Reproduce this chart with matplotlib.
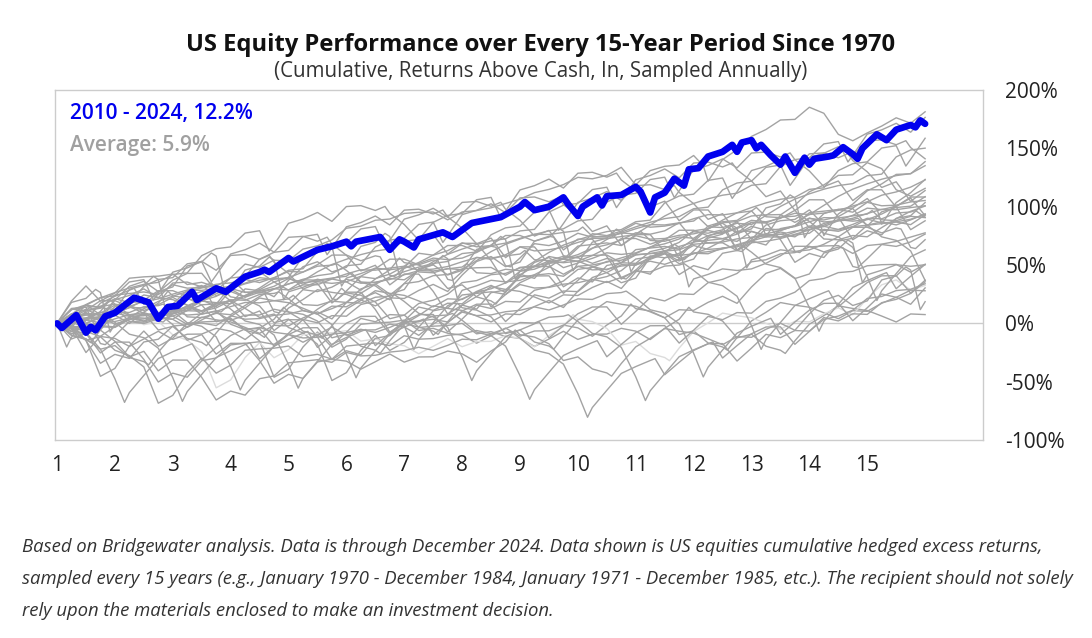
import numpy as np
import matplotlib.pyplot as plt

plt.rcParams['font.family'] = ['Open Sans', 'DejaVu Sans']

# S&P 500 quarter-end price levels (Q1..Q4 of each year)
spx_dec_1969 = 92.06
spx_1970s = [89.63, 72.72, 84.21, 92.15,
             100.31, 99.70, 98.34, 102.09,
             107.20, 107.14, 110.55, 118.05,
             111.52, 104.26, 108.43, 97.55,
             93.98, 86.00, 63.54, 68.56,
             83.36, 95.19, 83.87, 90.19,
             102.77, 104.28, 105.24, 107.46,
             98.42, 100.48, 96.53, 95.10,
             89.21, 95.53, 102.54, 96.11,
             101.59, 102.91, 109.32, 107.94]
spx_1980s = [102.09, 114.24, 125.46, 135.76,
             136.00, 131.21, 116.18, 122.55,
             111.96, 109.61, 120.42, 140.64,
             152.96, 168.11, 166.07, 164.93,
             159.18, 153.18, 166.10, 167.24,
             180.66, 191.85, 182.08, 211.28,
             238.90, 250.84, 231.32, 242.17,
             291.70, 304.00, 321.83, 247.08,
             258.89, 273.50, 271.91, 277.72,
             294.87, 317.98, 349.15, 353.40]
spx_1990s = [339.94, 358.02, 306.05, 330.22,
             375.22, 371.16, 387.86, 417.09,
             403.69, 408.14, 417.80, 435.71,
             451.67, 450.53, 458.93, 466.45,
             445.77, 444.27, 462.69, 459.27,
             500.71, 544.75, 584.41, 615.93,
             645.50, 670.63, 687.31, 740.74,
             757.12, 885.14, 947.28, 970.43,
             1101.75, 1133.84, 1017.01, 1229.23,
             1286.37, 1372.71, 1282.71, 1469.25]
spx_2000s = [1498.58, 1454.60, 1436.51, 1320.28,
             1160.33, 1224.42, 1040.94, 1148.08,
             1147.39, 989.82, 815.28, 879.82,
             848.18, 974.50, 995.97, 1111.92,
             1126.21, 1140.84, 1114.58, 1211.92,
             1180.59, 1191.33, 1228.81, 1248.29,
             1294.83, 1270.20, 1335.85, 1418.30,
             1420.86, 1503.35, 1526.75, 1468.36,
             1322.70, 1280.00, 1166.36, 903.25,
             797.87, 919.32, 1057.08, 1115.10]
spx_2010s = [1169.43, 1030.71, 1141.20, 1257.64,
             1325.83, 1320.64, 1131.42, 1257.60,
             1408.47, 1362.16, 1440.67, 1426.19,
             1569.19, 1606.28, 1681.55, 1848.36,
             1872.34, 1960.23, 1972.29, 2058.90,
             2067.89, 2063.11, 1920.03, 2043.94,
             2059.74, 2098.86, 2168.27, 2238.83,
             2362.72, 2423.41, 2519.36, 2673.61,
             2640.87, 2718.37, 2913.98, 2506.85,
             2834.40, 2941.76, 2976.74, 3230.78]
spx_2020s = [2584.59, 3100.29, 3363.00, 3756.07,
             3972.89, 4297.50, 4307.54, 4766.18,
             4530.41, 3785.38, 3585.62, 3839.50,
             4109.31, 4450.38, 4288.05, 4769.83,
             5254.35, 5460.48, 5762.48, 5881.63]

# a few extra month-end levels around big swings (months since Dec 1969)
extra_months = [131, 151, 212, 215, 247, 250, 289, 344, 368, 454, 470, 484, 602]
extra_levels = [140.52, 107.09, 329.80, 230.30, 356.15, 304.00, 481.61,
                957.28, 1517.68, 1549.38, 735.09, 1186.69, 2954.22]

# dividend yield minus T-bill rate, % per year, 1970..2024
carry_pct = [-2.9, -1.2, -1.3, -4.0, -3.4, -1.5, -1.2, -0.7, -1.9, -4.5,
             -6.5, -8.8, -5.2, -4.2, -4.9, -3.3, -2.5, -2.7, -3.1, -4.7,
             -3.9, -2.2, -0.5, -0.2, -1.5, -3.0, -2.9, -3.4, -3.4, -3.5,
             -4.7, -2.1, 0.0, 0.8, 0.3, -1.4, -3.0, -2.6, 1.1, 2.1,
             1.8, 2.0, 2.0, 2.0, 1.9, 2.0, 1.8, 1.0, 0.0, -0.2,
             1.3, 1.2, -0.4, -3.6, -3.8]

start_years = list(range(1970, 2010))
light_year = 1972

# 2010 - 2024 path (month, cumulative %)
blue_month = [0, 1, 4, 6, 7, 8, 10, 12, 16, 19, 21, 23, 25, 28, 29, 33, 35, 39, 42, 43,
              44, 48, 49, 54, 57, 60, 61, 62, 67, 69, 71, 72, 74, 75, 80, 82, 86, 92, 96, 97,
              99, 102, 105, 106, 108, 109, 112, 113, 114, 117, 120, 121, 123, 124, 126, 128, 130, 131, 133, 135,
              138, 140, 141, 142, 144, 145, 146, 148, 150, 151, 153, 155, 156, 157, 160, 161, 163, 165, 166, 167,
              170, 172, 174, 177, 178, 179, 180]
blue_value = [0, -4, 7, -8, -3, -6, 6, 9, 22, 18, 4, 14, 15, 27, 20, 30, 27, 40, 44, 46,
              44, 56, 53, 63, 66, 70, 66, 70, 74, 63, 72, 70, 65, 72, 78, 74, 86, 91, 100, 104,
              97, 100, 108, 102, 92, 100, 108, 101, 109, 110, 117, 113, 95, 108, 112, 124, 118, 132, 133, 143,
              147, 153, 147, 155, 157, 150, 153, 144, 136, 143, 129, 142, 136, 141, 143, 144, 151, 145, 141, 150,
              162, 157, 166, 170, 168, 174, 171]

x_ticks = list(range(1, 16))
y_ticks = [-100, -50, 0, 50, 100, 150, 200]

# build the monthly-indexed level series
q_levels = np.array(spx_1970s + spx_1980s + spx_1990s + spx_2000s + spx_2010s + spx_2020s)
q_months = np.arange(1, len(q_levels) + 1) * 3
months = np.concatenate([[0], q_months, extra_months]).astype(int)
levels = np.concatenate([[spx_dec_1969], q_levels, extra_levels])
order = np.argsort(months)
months, levels = months[order], levels[order]

carry_cum = np.concatenate([[0], np.cumsum(np.repeat(carry_pct, 12) / 12)])

fig = plt.figure(figsize=(10.92, 6.38), dpi=100)
ax = fig.add_axes([55 / 1092, 1 - 440 / 638, 928 / 1092, 350 / 638])

ax.axhline(0, color='#cccccc', lw=1, zorder=1)

for year in start_years:
    s = (year - 1970) * 12
    sel = (months >= s) & (months <= s + 180)
    m = months[sel]
    base = levels[months == s][0]
    y = 100 * np.log(levels[sel] / base) + carry_cum[m] - carry_cum[s]
    x = 1 + (m - s) / 12
    col = '#dcdcdc' if year == light_year else '#a3a3a3'
    ax.plot(x, y, color=col, lw=1.0, zorder=2)

bx = 1 + np.array(blue_month) / 12
ax.plot(bx, blue_value, color='#0000ee', lw=4.8, solid_joinstyle='round',
        solid_capstyle='round', zorder=5)

ax.set_xlim(0.965, 17.0)
ax.set_ylim(-100, 200)
ax.set_xticks(x_ticks)
ax.set_xticklabels([str(t) for t in x_ticks])
ax.yaxis.tick_right()
ax.set_yticks(y_ticks)
ax.set_yticklabels([f'{t}%' for t in y_ticks])
ax.tick_params(axis='x', length=0, pad=11, labelsize=15, labelcolor='#222222')
ax.tick_params(axis='y', length=0, pad=16, labelsize=15, labelcolor='#222222')
for sp in ax.spines.values():
    sp.set_color('#cccccc')
    sp.set_linewidth(1)

fig.text(0.495, 1 - 45 / 638, 'US Equity Performance over Every 15-Year Period Since 1970',
         ha='center', va='center', fontsize=17.1, weight='bold', color='#111111')
fig.text(0.495, 1 - 72 / 638, '(Cumulative, Returns Above Cash, In, Sampled Annually)',
         ha='center', va='center', fontsize=14.8, color='#333333')

fig.text(70 / 1092, 1 - 113 / 638, '2010 - 2024, 12.2%', ha='left', va='center',
         fontsize=15, weight='semibold', color='#0000ee')
fig.text(70 / 1092, 1 - 145 / 638, 'Average: 5.9%', ha='left', va='center',
         fontsize=15, weight='semibold', color='#a0a0a0')

notes = ['Based on Bridgewater analysis. Data is through December 2024. Data shown is US equities cumulative hedged excess returns,',
         'sampled every 15 years (e.g., January 1970 - December 1984, January 1971 - December 1985, etc.). The recipient should not solely',
         'rely upon the materials enclosed to make an investment decision.']
for i, line in enumerate(notes):
    fig.text(22 / 1092, 1 - (547 + 32 * i) / 638, line, ha='left', va='center',
             fontsize=13.3, style='italic', color='#333333')

fig.savefig('out.png', dpi=100)
